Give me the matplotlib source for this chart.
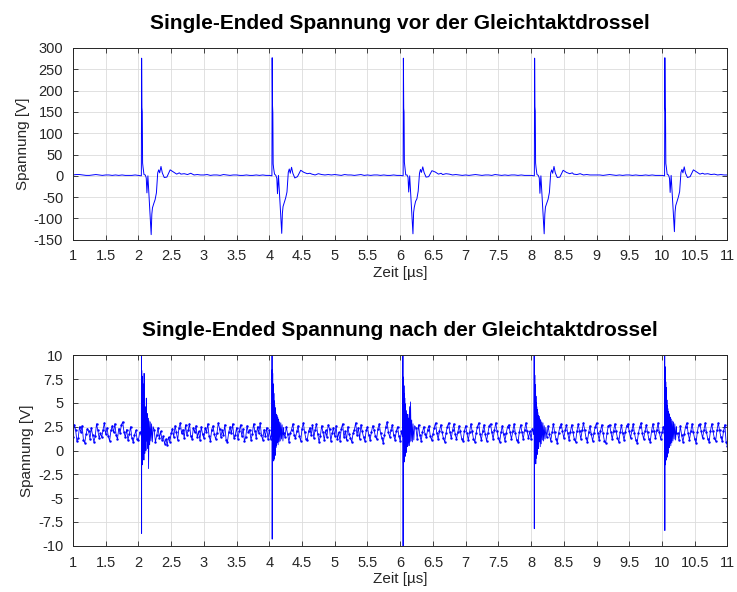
import matplotlib
matplotlib.use("Agg")
import matplotlib.pyplot as plt
import numpy as np

plt.rcParams['font.family'] = ['Liberation Sans', 'DejaVu Sans']

# Zeitachsen-Raster der Grundlinien (µs)
t_start, t_end = 1.0, 11.0

# --- oberes Diagramm: vor der Gleichtaktdrossel ---
# Grundlinie alle 0.05 µs (Werte im Pulsfenster werden ersetzt)
basis_oben = [
    2, 3, 3, 2, 1, 1, 2, 3, 2, 1, 2, 2, 1, 2, 1, 2, 1, 1, 1, 2,
    1, 1, 0, 0, 0, 0, 0, 0, 0, 0, 0, 0, 0, 4, 5, 3, 6, 2, 3, 2,
    2, 3, 1, 2, 2, 1, 3, 2, 1, 2, 2, 1, 1, 2, 1, 1, 2, 1, 2, 1,
    1, 1, 0, 0, 0, 0, 0, 0, 0, 0, 0, 0, 0, 4, 2, 5, 3, 2, 3, 2,
    3, 2, 1, 3, 2, 2, 1, 2, 3, 1, 2, 1, 2, 2, 1, 2, 1, 1, 2, 1,
    1, 1, 0, 0, 0, 0, 0, 0, 0, 0, 0, 0, 0, 3, 5, 4, 2, 3, 2, 1,
    2, 1, 2, 3, 2, 1, 2, 2, 1, 3, 2, 1, 2, 1, 2, 2, 1, 2, 1, 1,
    1, 1, 0, 0, 0, 0, 0, 0, 0, 0, 0, 0, 0, 4, 3, 5, 2, 3, 2, 2,
    2, 2, 1, 2, 3, 2, 1, 2, 1, 2, 2, 1, 2, 1, 1, 2, 1, 2, 1, 1,
    1, 1, 0, 0, 0, 0, 0, 0, 0, 0, 0, 0, 0, 4, 5, 3, 4, 2, 3, 2,
    2,
]
puls_start_oben = [2.045, 4.04, 6.045, 8.05, 10.04]
puls_dt_oben = [0, 0.004, 0.009, 0.014, 0.019, 0.026, 0.04, 0.06, 0.075, 0.085,
                0.095, 0.1, 0.125, 0.15, 0.16, 0.17, 0.19, 0.21, 0.23, 0.25,
                0.265, 0.28, 0.3, 0.32, 0.35, 0.39, 0.44, 0.49, 0.54, 0.58]
puls_oben_1 = [0, 276, 160, 150, 30, 20, 3, 2, -5, -40, -15, 0, -70, -138, -90,
               -75, -65, -56, -40, 7, 14, 7, 22, 7, -4, -3, 14, 9, 4, 7]
puls_oben_2 = [0, 277, 165, 148, 28, 18, 4, 1, -6, -42, -12, 1, -68, -135, -88,
               -72, -62, -52, -38, 8, 16, 6, 20, 6, -5, -2, 13, 8, 5, 6]
puls_oben_3 = [0, 276, 158, 150, 32, 22, 2, 2, -4, -38, -14, 0, -66, -136, -86,
               -74, -60, -54, -36, 6, 15, 8, 21, 8, -3, -2, 12, 9, 4, 6]
puls_oben_4 = [0, 276, 162, 152, 30, 19, 3, 1, -5, -41, -13, 0, -70, -136, -90,
               -73, -64, -55, -39, 7, 14, 6, 22, 7, -4, -3, 13, 8, 5, 7]
puls_oben_5 = [0, 277, 160, 149, 29, 21, 3, 2, -6, -39, -15, 1, -65, -131, -85,
               -70, -60, -50, -37, 8, 15, 7, 21, 6, -4, -2, 14, 9, 4, 6]

# --- unteres Diagramm: nach der Gleichtaktdrossel ---
# Grundlinie alle 0.02 µs, eine Zeile je µs (1.8 = Platzhalter im Pulsfenster)
basis_unten = [
    1.4, 2.7, 2.2, 1.0, 1.3, 2.5, 1.9, 2.6, 1.1, 0.8, 1.7, 2.3, 2.0, 1.2, 2.4, 1.6, 0.9, 1.5, 2.8, 2.1,
    1.3, 1.8, 1.4, 2.2, 2.9, 1.7, 2.4, 1.5, 1.0, 2.1, 2.6, 1.9, 2.8, 1.6, 1.2, 2.3, 1.8, 2.7, 3.0, 1.9,
    1.4, 2.2, 1.1, 1.7, 2.5, 1.3, 0.9, 1.6, 2.1, 1.2,
    1.1, 1.9, 1.8, 1.8, 1.8, 1.8, 1.8, 1.8, 1.8, 1.8, 1.8, 1.8,
    2.2, 0.9, 1.6, 2.4, 1.3, 2.0, 1.1, 1.5, 0.7, 1.2, 0.6, 1.4, 0.9, 1.8, 2.3, 1.4, 2.6, 1.9, 1.1, 2.4,
    2.9, 1.8, 2.2, 1.3, 2.7, 1.6, 2.1, 2.8, 1.5, 1.2, 2.4, 1.9, 2.6, 1.4, 2.0, 1.1, 2.5, 1.7,
    1.3, 2.4, 1.9, 2.8, 1.5, 1.0, 2.2, 2.6, 1.7, 1.2, 1.8, 2.9, 2.3, 1.4, 2.1, 1.6, 2.7, 1.1, 0.9, 1.9,
    2.5, 1.8, 2.8, 1.3, 1.6, 2.4, 1.2, 2.0, 2.7, 1.5, 2.3, 1.0, 1.4, 2.6, 1.9, 2.2, 1.1, 1.7, 2.8, 2.0,
    1.3, 2.5, 1.8, 2.9, 1.6, 1.1, 2.2, 1.5, 2.4, 1.2,
    2.1, 1.2, 1.8, 1.8, 1.8, 1.8, 1.8, 1.8, 1.8, 1.8, 1.8, 1.8,
    1.4, 2.5, 1.7, 0.9, 1.8, 2.2, 2.8, 1.6, 1.3, 2.0, 2.6, 1.5, 1.0, 2.3, 2.9, 1.9, 1.2, 1.1, 2.0, 2.4,
    1.6, 2.7, 1.3, 2.2, 2.8, 1.7, 0.9, 1.5, 2.6, 1.9, 1.1, 2.1, 1.4, 2.7, 2.3, 1.0, 1.8, 2.4,
    1.5, 2.6, 1.2, 1.9, 1.0, 2.3, 2.8, 1.4, 2.0, 1.1, 2.5, 1.7, 1.3, 0.9, 1.8, 2.2, 2.9, 1.6, 2.4, 1.2,
    2.7, 2.0, 1.4, 1.0, 2.1, 2.5, 1.6, 1.1, 1.9, 2.6, 2.2, 1.5, 1.2, 2.3, 2.8, 1.8, 1.3, 0.8, 1.6, 2.5,
    3.0, 1.9, 1.4, 2.2, 2.7, 1.6, 1.1, 2.0, 2.5, 1.5,
    1.0, 2.0, 1.8, 1.8, 1.8, 1.8, 1.8, 1.8, 1.8, 1.8, 1.8, 1.8,
    2.4, 1.2, 2.7, 1.6, 1.0, 1.9, 2.5, 1.7, 1.4, 2.2, 2.6, 1.5, 1.1, 1.7, 2.4, 2.9, 1.8, 1.2, 2.0, 2.7,
    1.9, 1.3, 0.9, 1.8, 2.5, 2.9, 1.9, 1.3, 2.1, 2.8, 1.7, 1.2, 1.9, 2.6, 2.0, 1.2, 1.0, 2.0,
    2.6, 1.8, 1.1, 1.9, 2.8, 2.0, 1.2, 0.9, 1.8, 2.5, 2.9, 1.7, 1.1, 2.0, 2.7, 1.7, 1.0, 1.8, 2.6, 2.8,
    1.9, 1.2, 2.1, 2.9, 2.0, 1.3, 0.9, 1.9, 2.6, 1.7, 1.0, 1.8, 2.5, 2.7, 1.9, 1.2, 2.0, 2.8, 1.8, 1.1,
    0.9, 1.9, 2.7, 1.9, 1.2, 2.1, 2.9, 2.0, 1.3, 2.0,
    1.2, 2.3, 1.8, 1.8, 1.8, 1.8, 1.8, 1.8, 1.8, 1.8, 1.8, 1.8,
    1.4, 2.6, 1.7, 1.0, 1.9, 2.8, 1.9, 1.2, 0.8, 1.8, 2.5, 2.8, 2.0, 1.3, 2.1, 2.7, 1.8, 1.1, 1.9, 2.7,
    1.9, 1.2, 0.9, 2.0, 2.8, 2.0, 1.2, 2.1, 2.9, 2.1, 1.3, 0.9, 1.9, 2.6, 1.7, 1.0, 1.8, 2.5,
    2.9, 1.8, 1.1, 2.0, 2.7, 1.8, 1.0, 0.8, 1.8, 2.6, 2.7, 1.9, 1.2, 2.0, 2.8, 2.0, 1.3, 0.9, 1.9, 2.7,
    1.8, 1.1, 1.9, 2.6, 2.8, 2.0, 1.3, 2.1, 2.8, 1.8, 1.1, 0.8, 1.8, 2.5, 2.9, 1.8, 1.2, 2.0, 2.7, 1.9,
    1.2, 0.9, 2.0, 2.8, 2.0, 1.3, 2.1, 2.9, 1.9, 1.2,
    1.9, 2.5, 1.8, 1.8, 1.8, 1.8, 1.8, 1.8, 1.8, 1.8, 1.8, 1.8,
    1.8, 1.1, 2.6, 1.6, 0.9, 1.7, 2.5, 2.9, 1.8, 1.1, 2.0, 2.8, 1.9, 1.2, 0.8, 1.9, 2.7, 2.8, 2.0, 1.3,
    2.1, 2.9, 1.9, 1.2, 0.9, 2.0, 2.8, 2.0, 1.3, 1.0, 2.1, 2.9, 2.1, 1.4, 1.0, 2.0, 2.7, 0.9,
    0.5,
]
puls_start_unten = [2.045, 4.04, 6.04, 8.045, 10.04]
puls_dt_unten = [-0.004, 0, 0.002, 0.004, 0.006, 0.009, 0.012, 0.015, 0.018, 0.021,
                 0.024, 0.027, 0.030, 0.033, 0.036, 0.039, 0.042, 0.045, 0.049, 0.053,
                 0.057, 0.061, 0.065, 0.070, 0.076, 0.082, 0.088, 0.095, 0.102, 0.110,
                 0.118, 0.127, 0.136, 0.146, 0.156, 0.168, 0.180]
puls_unten_1 = [1.6, 2.0, 12.0, -8.7, 8.4, -1.0, 7.8, -1.5, 6.5, 0.0, 7.0, -0.5, 5.8, 0.3,
                6.2, -1.0, 8.1, 0.5, 5.0, -0.3, 4.6, 0.8, 4.2, 0.0, 5.5, 1.0, 3.9, 0.2,
                3.4, -1.9, 3.1, 0.6, 3.0, 1.0, 2.8, 0.9, 2.5]
puls_unten_2 = [1.8, 2.2, 12.0, -9.3, 8.5, -0.8, 8.1, -1.0, 7.0, 0.2, 6.5, -1.1, 6.0, 0.0,
                5.2, -0.9, 4.8, 0.4, 4.5, -0.5, 4.0, 0.3, 3.8, 0.5, 3.7, 0.8, 3.5, 0.6,
                3.3, 0.9, 3.0, 1.0, 2.9, 1.2, 2.7, 1.0, 2.4]
puls_unten_3 = [1.5, 2.1, 12.0, -10.5, 7.7, -1.3, 7.5, -0.8, 6.8, 0.0, 6.0, -1.2, 5.5, 0.2,
                4.9, -0.6, 4.4, 0.5, 4.2, -0.2, 3.9, 0.6, 3.6, 0.4, 3.8, 0.8, 3.4, 0.5,
                4.6, 0.9, 5.1, 1.0, 3.2, 0.9, 2.8, 1.1, 2.6]
puls_unten_4 = [1.7, 2.3, 12.0, -8.2, 8.6, -1.2, 7.9, -0.6, 6.9, 0.3, 6.4, -1.4, 5.7, 0.0,
                5.0, -0.8, 4.6, 0.6, 4.3, -0.4, 4.0, 0.5, 3.7, 0.2, 3.6, 0.9, 3.3, 0.4,
                3.2, 0.7, 3.0, 1.1, 2.9, 1.0, 2.6, 1.2, 2.4]
puls_unten_5 = [1.6, 2.2, 12.0, -8.4, 8.8, -0.9, 8.2, -1.5, 7.2, 0.1, 6.6, -1.0, 5.9, 0.4,
                5.3, -0.7, 4.7, 0.3, 4.4, -0.3, 4.1, 0.6, 3.9, 0.3, 3.8, 0.7, 3.5, 0.5,
                3.3, 0.8, 3.1, 1.0, 3.0, 1.2, 2.8, 1.1, 2.5]


def signal_bauen(basis, schritt, starts, dt, pulse):
    t_b = t_start + schritt * np.arange(len(basis))
    v_b = np.array(basis, dtype=float)
    dt = np.array(dt)
    keep = np.ones(len(t_b), dtype=bool)
    for t0 in starts:
        keep &= ~((t_b >= t0 + dt[0]) & (t_b <= t0 + dt[-1]))
    t_all = [t_b[keep]]
    v_all = [v_b[keep]]
    for t0, p in zip(starts, pulse):
        t_all.append(t0 + dt)
        v_all.append(np.array(p, dtype=float))
    t_all = np.concatenate(t_all)
    v_all = np.concatenate(v_all)
    order = np.argsort(t_all)
    return t_all[order], v_all[order], t_b[keep], v_b[keep]


t1, v1, _, _ = signal_bauen(basis_oben, 0.05, puls_start_oben, puls_dt_oben,
                            [puls_oben_1, puls_oben_2, puls_oben_3, puls_oben_4, puls_oben_5])
t2, v2, tb2, vb2 = signal_bauen(basis_unten, 0.02, puls_start_unten, puls_dt_unten,
                                [puls_unten_1, puls_unten_2, puls_unten_3, puls_unten_4, puls_unten_5])

fig = plt.figure(figsize=(7.37, 5.92), dpi=100)
ax1 = fig.add_axes([0.099, 0.595, 0.888, 0.324])
ax2 = fig.add_axes([0.099, 0.078, 0.888, 0.322])

achsfarbe = '#262626'


def stil(ax, titel, yticks, ylim):
    ax.set_xlim(t_start, t_end)
    ax.set_ylim(*ylim)
    ax.set_xticks(np.arange(1, 11.01, 0.5))
    ax.set_xticklabels(['%g' % x for x in np.arange(1, 11.01, 0.5)])
    ax.set_yticks(yticks)
    ax.set_yticklabels(['%g' % y for y in yticks])
    ax.grid(True, color='#dcdcdc', linewidth=0.6)
    ax.set_axisbelow(True)
    ax.tick_params(direction='in', top=True, right=True, length=3.5, width=0.6,
                   labelsize=10.5, colors=achsfarbe, pad=7)
    for s in ax.spines.values():
        s.set_color(achsfarbe)
        s.set_linewidth(0.7)
    ax.set_title(titel, fontsize=15, fontweight='bold', pad=14)
    ax.set_xlabel('Zeit [µs]', fontsize=11, color=achsfarbe, labelpad=2)
    ax.set_ylabel('Spannung [V]', fontsize=11, color=achsfarbe, labelpad=3)


ax1.plot(t1, v1, color='#0000ff', linewidth=0.7)
stil(ax1, 'Single-Ended Spannung vor der Gleichtaktdrossel',
     np.arange(-150, 301, 50), (-150, 300))

ax2.plot(t2, v2, color='#0000ff', linewidth=0.6)
ax2.plot(tb2, vb2, linestyle='none', color='#0000ff', marker='.', markersize=1.5)
stil(ax2, 'Single-Ended Spannung nach der Gleichtaktdrossel',
     np.arange(-10, 10.01, 2.5), (-10, 10))

fig.savefig('out.png', dpi=100)
